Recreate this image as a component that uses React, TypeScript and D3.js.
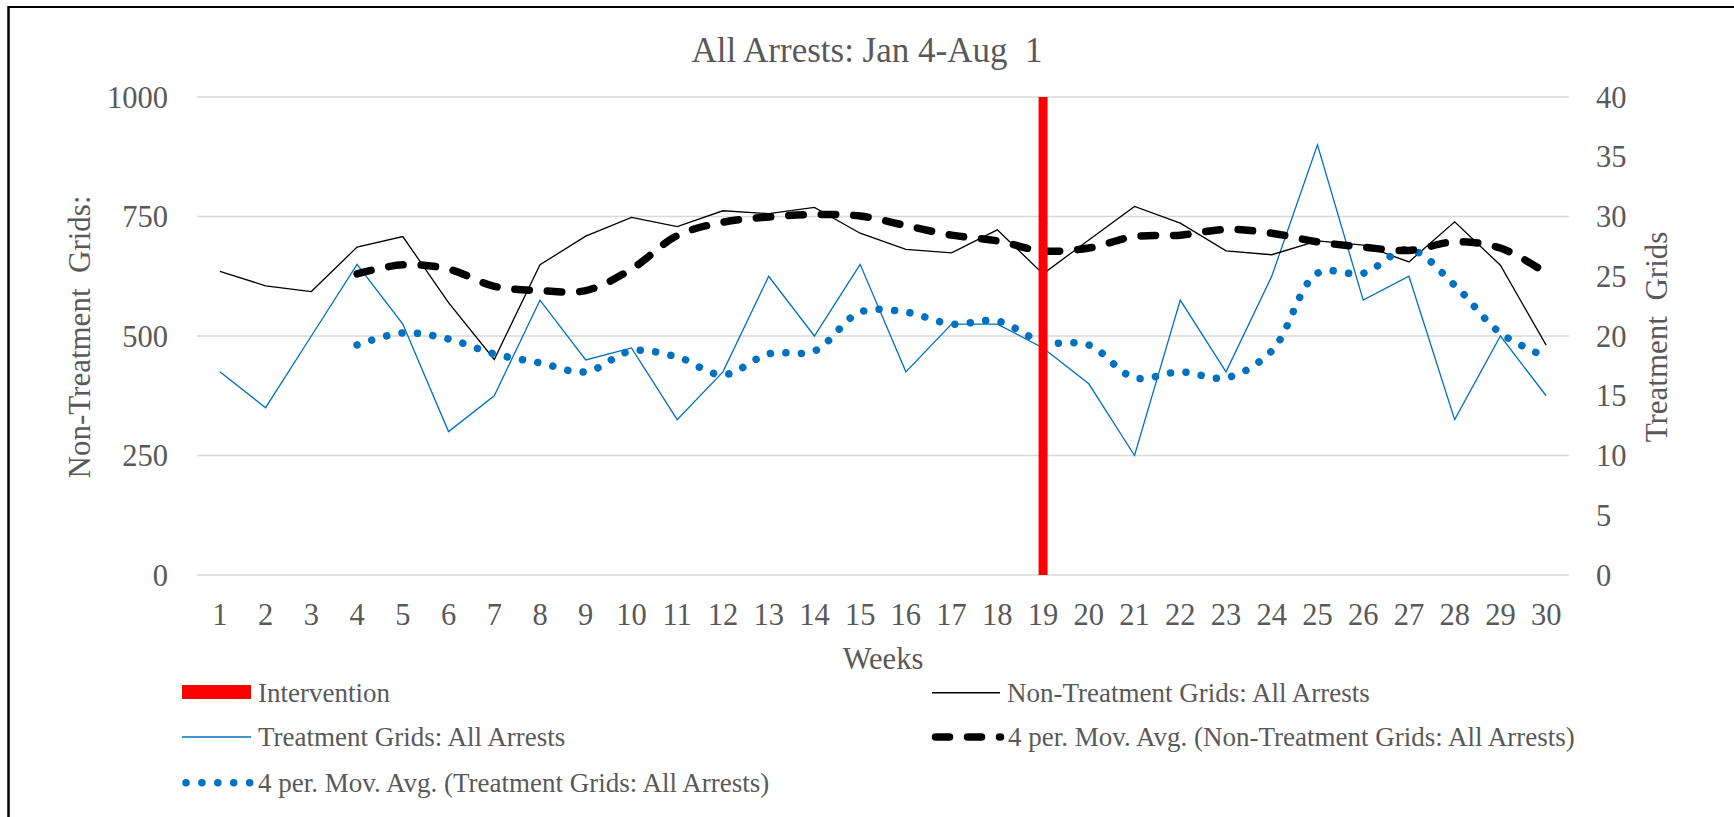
import React from "react";
import * as d3 from "d3";

const weeks = Array.from({ length: 30 }, (_, i) => String(i + 1));
const nonTreatment = [635, 605, 593, 686, 708, 570, 451, 649, 709, 748, 729, 762, 756, 769, 715, 681, 674, 722, 630, 701, 771, 736, 678, 670, 699, 690, 655, 739, 648, 481];
const treatment = [17, 14, 20, 26, 21, 12, 15, 23, 18, 19, 13, 17, 25, 20, 26, 17, 21, 21, 19, 16, 10, 23, 17, 25, 36, 23, 25, 13, 20, 15];
const maWeeks = weeks.slice(3);
const nonTreatmentMA = [630, 649, 640, 604, 595, 595, 640, 710, 738, 749, 754, 751, 731, 711, 699, 678, 684, 708, 711, 723, 715, 697, 686, 679, 697, 684, 632];
const treatmentMA = [19.25, 20.25, 19.75, 18.5, 17.75, 17, 18.75, 18.25, 16.75, 18.5, 18.75, 22, 22, 21, 21.25, 19.5, 19.25, 16.5, 17, 16.5, 18.75, 25.25, 25.25, 27.25, 24.25, 20.25, 18.25];
const interventionWeek = "19";
const leftTicks = [0, 250, 500, 750, 1000];
const rightTicks = [0, 5, 10, 15, 20, 25, 30, 35, 40];

const FONT = '"Liberation Serif", "Times New Roman", serif';
const TXT = "#595959";
const BLUE = "#0070C0";

export default function App() {
  const L = 197, R = 1569, T = 97, B = 575;
  const x = d3.scaleBand().domain(weeks).range([L, R]);
  const cx = (w: string) => (x(w) as number) + x.bandwidth() / 2;
  const yL = d3.scaleLinear().domain([0, 1000]).range([B, T]);
  const yR = d3.scaleLinear().domain([0, 40]).range([B, T]);

  const lineL = d3.line<[string, number]>().x((d) => cx(d[0])).y((d) => yL(d[1]));
  const lineR = d3.line<[string, number]>().x((d) => cx(d[0])).y((d) => yR(d[1]));
  const smoothL = d3.line<[string, number]>().x((d) => cx(d[0])).y((d) => yL(d[1])).curve(d3.curveCatmullRom.alpha(0.5));
  const smoothR = d3.line<[string, number]>().x((d) => cx(d[0])).y((d) => yR(d[1])).curve(d3.curveCatmullRom.alpha(0.5));

  const ntPts = weeks.map((w, i) => [w, nonTreatment[i]] as [string, number]);
  const tPts = weeks.map((w, i) => [w, treatment[i]] as [string, number]);
  const ntMaPts = maWeeks.map((w, i) => [w, nonTreatmentMA[i]] as [string, number]);
  const tMaPts = maWeeks.map((w, i) => [w, treatmentMA[i]] as [string, number]);

  const legFs = 27;
  return (
    <svg width={1734} height={817} style={{ position: "absolute", left: 0, top: 0, background: "#fff" }} fontFamily={FONT}>
      <rect x={0} y={0} width={1734} height={817} fill="#fff" />
      {/* border */}
      <line x1={8.5} y1={7} x2={1734} y2={7} stroke="#000" strokeWidth={2} />
      <line x1={8.5} y1={6} x2={8.5} y2={817} stroke="#000" strokeWidth={2.5} />

      <text x={867} y={62} textAnchor="middle" fontSize={35} fill={TXT} style={{ whiteSpace: "pre" }}>All Arrests: Jan 4-Aug  1</text>

      {leftTicks.map((t) => (
        <line key={"g" + t} x1={L} x2={R} y1={yL(t)} y2={yL(t)} stroke="#d9d9d9" strokeWidth={1.5} />
      ))}
      {leftTicks.map((t) => (
        <text key={"l" + t} x={168} y={yL(t) + 10.5} textAnchor="end" fontSize={30.5} fill={TXT}>{t}</text>
      ))}
      {rightTicks.map((t) => (
        <text key={"r" + t} x={1596} y={yR(t) + 10.5} textAnchor="start" fontSize={30.5} fill={TXT}>{t}</text>
      ))}
      {weeks.map((w) => (
        <text key={"x" + w} x={cx(w)} y={625} textAnchor="middle" fontSize={30.5} fill={TXT}>{w}</text>
      ))}
      <text x={(L + R) / 2} y={669} textAnchor="middle" fontSize={30.5} fill={TXT}>Weeks</text>
      <text transform={`translate(90,337) rotate(-90)`} textAnchor="middle" fontSize={31} fill={TXT} style={{ whiteSpace: "pre" }}>Non-Treatment  Grids:</text>
      <text transform={`translate(1667,337) rotate(-90)`} textAnchor="middle" fontSize={31} fill={TXT} style={{ whiteSpace: "pre" }}>Treatment  Grids</text>

      {/* series */}
      <path d={lineR(tPts) || ""} fill="none" stroke={BLUE} strokeWidth={1.3} />
      <path d={lineL(ntPts) || ""} fill="none" stroke="#000" strokeWidth={1.3} />
      <path d={smoothR(tMaPts) || ""} fill="none" stroke={BLUE} strokeWidth={7.5} strokeLinecap="round" strokeDasharray="0.01 15.5" />
      <path d={smoothL(ntMaPts) || ""} fill="none" stroke="#000" strokeWidth={7.5} strokeLinecap="round" strokeDasharray="14.5 18" />
      <rect x={cx(interventionWeek) - 4.5} y={T} width={9} height={B - T} fill="#ff0000" />

      {/* legend */}
      <rect x={182} y={685} width={69} height={14} fill="#ff0000" />
      <text x={258} y={701.5} fontSize={legFs} fill={TXT}>Intervention</text>
      <line x1={182} x2={251} y1={737} y2={737} stroke={BLUE} strokeWidth={1.5} />
      <text x={258} y={746} fontSize={legFs} fill={TXT}>Treatment Grids: All Arrests</text>
      <line x1={186} x2={250} y1={782.7} y2={782.7} stroke={BLUE} strokeWidth={7.5} strokeLinecap="round" strokeDasharray="0.01 15.9" />
      <text x={258} y={791.5} fontSize={legFs} fill={TXT}>4 per. Mov. Avg. (Treatment Grids: All Arrests)</text>

      <line x1={932} x2={1000} y1={692.7} y2={692.7} stroke="#000" strokeWidth={1.5} />
      <text x={1007} y={701.5} fontSize={legFs} fill={TXT}>Non-Treatment Grids: All Arrests</text>
      <line x1={935.5} x2={1000.5} y1={737} y2={737} stroke="#000" strokeWidth={7.5} strokeLinecap="round" strokeDasharray="14 18" />
      <text x={1008} y={746} fontSize={legFs} fill={TXT}>4 per. Mov. Avg. (Non-Treatment Grids: All Arrests)</text>
    </svg>
  );
}
